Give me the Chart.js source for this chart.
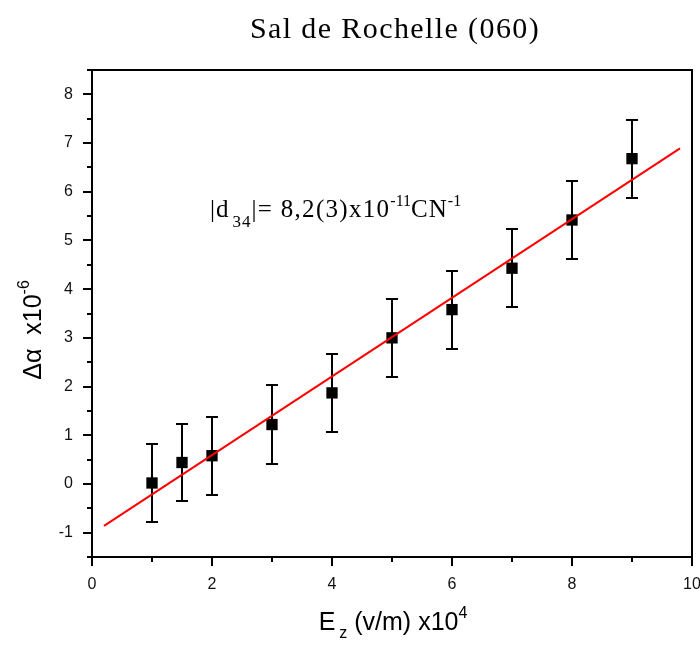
<!DOCTYPE html>
<html>
<head>
<meta charset="utf-8">
<script src="https://cdn.jsdelivr.net/npm/chart.js@4.4.1/dist/chart.umd.min.js"></script>
<style>
html,body{margin:0;padding:0;background:#fff;}
#wrap{width:700px;height:646px;position:relative;}
</style>
</head>
<body>
<div id="wrap"><canvas id="c" width="700" height="646"></canvas></div>
<script>
// ---- data ----
const fieldX = [1, 1.5, 2, 3, 4, 5, 6, 7, 8, 9];           // E_z (v/m) x10^4
const deltaAlpha = [0.02, 0.44, 0.58, 1.22, 1.87, 3.0, 3.58, 4.43, 5.42, 6.68]; // Δα x10^-6
const errorBars = [0.8, 0.8, 0.8, 0.82, 0.8, 0.8, 0.8, 0.8, 0.8, 0.8];
const fitX = [0.2, 9.8];
const fitY = [-0.86, 6.89];
const xTickLabels = ['0', '2', '4', '6', '8', '10'];
const yTickLabels = ['-1', '0', '1', '2', '3', '4', '5', '6', '7', '8'];
const titleText = 'Sal de Rochelle (060)';

const pts = fieldX.map((x, i) => ({x: x, y: deltaAlpha[i]}));
const fitPts = fitX.map((x, i) => ({x: x, y: fitY[i]}));

const SANS = '"Liberation Sans", Arial, sans-serif';
const SERIF = '"Liberation Serif", "Times New Roman", serif';

function drawRuns(ctx, runs, x, y) {
  let cx = x;
  for (const r of runs) {
    ctx.font = r.size + 'px ' + r.font;
    ctx.letterSpacing = (r.ls || 0) + 'px';
    ctx.fillText(r.t, cx, y + (r.dy || 0));
    cx += ctx.measureText(r.t).width + (r.gap || 0);
  }
  ctx.letterSpacing = '0px';
  return cx - x;
}
function runsWidth(ctx, runs) {
  let w = 0;
  for (const r of runs) {
    ctx.font = r.size + 'px ' + r.font;
    ctx.letterSpacing = (r.ls || 0) + 'px';
    w += ctx.measureText(r.t).width + (r.gap || 0);
  }
  ctx.letterSpacing = '0px';
  return w;
}

const decorPlugin = {
  id: 'decor',
  beforeDatasetsDraw(chart) {
    const ctx = chart.ctx;
    const xs = chart.scales.x, ys = chart.scales.y;
    ctx.save();
    ctx.strokeStyle = '#000';
    ctx.lineWidth = 2;
    const cap = 6;
    fieldX.forEach((xv, i) => {
      const px = Math.round(xs.getPixelForValue(xv));
      const top = Math.round(ys.getPixelForValue(deltaAlpha[i] + errorBars[i]));
      const bot = Math.round(ys.getPixelForValue(deltaAlpha[i] - errorBars[i]));
      ctx.beginPath();
      ctx.moveTo(px, top); ctx.lineTo(px, bot);
      ctx.moveTo(px - cap, top); ctx.lineTo(px + cap, top);
      ctx.moveTo(px - cap, bot); ctx.lineTo(px + cap, bot);
      ctx.stroke();
    });
    ctx.restore();
  },
  afterDraw(chart) {
    const ctx = chart.ctx;
    const a = chart.chartArea;
    const xs = chart.scales.x, ys = chart.scales.y;
    ctx.save();
    ctx.strokeStyle = '#000';
    ctx.lineWidth = 2;
    ctx.strokeRect(a.left, a.top, a.right - a.left, a.bottom - a.top);
    ctx.beginPath();
    for (let v = xs.min; v <= xs.max + 1e-9; v += 1) {
      const px = Math.round(xs.getPixelForValue(v));
      const len = (Math.round(v) % 2 === 0) ? 9 : 5;
      ctx.moveTo(px, a.bottom); ctx.lineTo(px, a.bottom + len);
    }
    for (let v = -1.5; v <= 8.5 + 1e-9; v += 0.5) {
      const py = Math.round(ys.getPixelForValue(v));
      const len = (Math.abs(v - Math.round(v)) < 1e-6) ? 9 : 5;
      ctx.moveTo(a.left, py); ctx.lineTo(a.left - len, py);
    }
    ctx.stroke();

    ctx.fillStyle = '#000';
    ctx.textBaseline = 'alphabetic';
    // title
    const tt = [{t: titleText, size: 30, font: SERIF, ls: 1.4}];
    const tw = runsWidth(ctx, tt);
    drawRuns(ctx, tt, 395 - tw / 2, 38);

    // annotation |d34|= 8,2(3)x10^-11 CN^-1
    const ann = [
      {t: '|d', size: 25, font: SERIF, ls: 1, gap: 3},
      {t: '34', size: 17, font: SERIF, dy: 10, ls: 1},
      {t: '|= 8,2(3)x10', size: 25, font: SERIF, ls: 1.3},
      {t: '-11', size: 16, font: SERIF, dy: -11},
      {t: 'CN', size: 25, font: SERIF, ls: 1},
      {t: '-1', size: 16, font: SERIF, dy: -11}
    ];
    drawRuns(ctx, ann, 210, 217);

    // x axis title
    const xt = [
      {t: 'E', size: 25, font: SANS, gap: 4},
      {t: 'z', size: 16, font: SANS, dy: 8, gap: 0},
      {t: ' (v/m) x10', size: 25, font: SANS},
      {t: '4', size: 16, font: SANS, dy: -12}
    ];
    const xw = runsWidth(ctx, xt);
    drawRuns(ctx, xt, 393 - xw / 2, 630);

    // y axis title
    const yt = [
      {t: 'Δα  x10', size: 25, font: SANS},
      {t: '-6', size: 16, font: SANS, dy: -12}
    ];
    const yw = runsWidth(ctx, yt);
    ctx.translate(41, 330);
    ctx.rotate(-Math.PI / 2);
    drawRuns(ctx, yt, -yw / 2, 0);
    ctx.restore();
  }
};

new Chart(document.getElementById('c'), {
  type: 'scatter',
  data: {
    datasets: [
      {
        type: 'line',
        label: 'fit',
        data: fitPts,
        borderColor: '#ff0000',
        borderWidth: 2,
        pointRadius: 0,
        fill: false,
        tension: 0
      },
      {
        label: 'data',
        data: pts,
        pointStyle: 'rect',
        pointRadius: 8,
        backgroundColor: '#000',
        borderColor: '#000',
        borderWidth: 0
      }
    ]
  },
  plugins: [decorPlugin],
  options: {
    responsive: false,
    animation: false,
    devicePixelRatio: 1,
    layout: {padding: {left: 0, top: 70, right: 8, bottom: 0}},
    plugins: {legend: {display: false}, tooltip: {enabled: false}, title: {display: false}},
    scales: {
      x: {
        type: 'linear',
        min: 0, max: 10,
        grid: {display: false, drawTicks: false},
        border: {display: false},
        afterFit(s) { s.height = 89; s.paddingLeft = 0; s.paddingRight = 0; },
        ticks: {
          stepSize: 2,
          padding: 18,
          color: '#111',
          font: {family: SANS, size: 16},
          maxRotation: 0,
          autoSkip: false,
          callback: (v) => xTickLabels.includes(String(v)) ? String(v) : ''
        }
      },
      y: {
        type: 'linear',
        min: -1.5, max: 8.5,
        grid: {display: false, drawTicks: false},
        border: {display: false},
        afterFit(s) { s.width = 92; s.paddingTop = 0; s.paddingBottom = 0; },
        ticks: {
          stepSize: 1,
          padding: 19,
          color: '#111',
          font: {family: SANS, size: 16},
          autoSkip: false,
          callback: (v) => yTickLabels.includes(String(v)) ? String(v) : ''
        },
        afterBuildTicks(s) {
          s.ticks = yTickLabels.map(t => ({value: Number(t)}));
        }
      }
    }
  }
});
</script>
</body>
</html>
